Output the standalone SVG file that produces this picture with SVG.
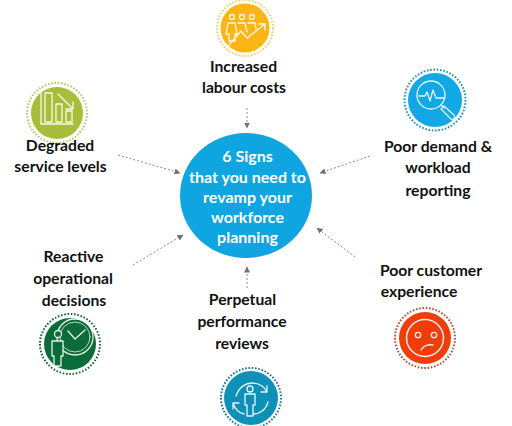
<svg xmlns="http://www.w3.org/2000/svg" width="512" height="426" viewBox="0 0 512 426">
<style>
.l{font-family:Lato,"Open Sans",sans-serif;font-weight:700;font-size:15.700px;fill:#111;text-anchor:middle}
.c{font-family:Lato,"Open Sans",sans-serif;font-weight:700;font-size:16px;fill:#fff;text-anchor:middle}
.a{stroke:#8a8a8a;stroke-width:1;stroke-dasharray:2 2;fill:none;marker-end:url(#ah)}
.r{fill:none;stroke-width:2;stroke-dasharray:1.6 1.7}
.i{fill:none;stroke:#fff;stroke-width:1.300;stroke-linecap:round;stroke-linejoin:round;opacity:.9}
</style>
<defs><marker id="ah" markerWidth="7" markerHeight="7" refX="5.500" refY="3" orient="auto" markerUnits="userSpaceOnUse"><path d="M0 0L6 3L0 6Z" fill="#707070"/></marker></defs>
<rect width="512" height="426" fill="#fff"/>
<g id="connectors">
<path class="a" d="M247 108V128"/>
<path class="a" d="M118 155L180 173"/>
<path class="a" d="M370 156L320 173"/>
<path class="a" d="M355 257L317 228"/>
<path class="a" d="M133 265L183 235"/>
<path class="a" d="M247 288V267"/>
</g>
<g id="center"><ellipse cx="246" cy="195.500" rx="66" ry="62.500" fill="#0ea5e0"/>
<text class="c" x="247.500" y="162">6 Signs</text><text class="c" x="247.500" y="183">that you need to</text><text class="c" x="247.500" y="203">revamp your</text><text class="c" x="247.500" y="223">workforce</text><text class="c" x="247.500" y="243">planning</text></g>
<g id="labour"><circle cx="245" cy="28" r="28" class="r" stroke="#f0cf68"/><circle cx="245" cy="28" r="24.500" fill="#fbb615"/>
<g class="i"><circle cx="232" cy="17" r="2.500"/><circle cx="242" cy="17" r="2.500"/><circle cx="252" cy="17" r="2.500"/><path d="M228 23h7l2 11h-2v7h-6v-7h-3zM238 23h7l2 9M248 23h7l1 6M229 45L241 31L247 38L265 24M259 24h6v6"/></g>
<text class="l" x="243.500" y="72">Increased</text><text class="l" x="244" y="93">labour costs</text></g>
<g id="service"><circle cx="57" cy="113" r="30" class="r" stroke="#b5c96a"/><circle cx="57" cy="113" r="26" fill="#a8bd3a"/>
<g class="i"><path d="M41 93V124H73M45 93h7v29h-7zM56 104h6v18h-6zM66 111h6v11h-6zM58 94L73 109M73 102v7h-7"/></g>
<text class="l" x="60" y="151">Degraded</text><text class="l" x="60.500" y="172">service levels</text></g>
<g id="reporting"><circle cx="435" cy="100" r="30.500" class="r" stroke="#1b8fc4"/><circle cx="435" cy="100" r="27" fill="#12a8e6"/>
<g class="i"><circle cx="431" cy="95" r="14"/><path d="M419 96h6l2-4 3 9 3-11 3 8h8M441 105l3 3M444 106l10 9c2 3-1 5-3 4l-10-10z"/></g>
<text class="l" x="438" y="152">Poor demand &amp;</text><text class="l" x="438" y="173">workload</text><text class="l" x="438" y="196">reporting</text></g>
<g id="experience"><circle cx="425" cy="338" r="30" class="r" stroke="#c0492b"/><circle cx="425" cy="338" r="26" fill="#ef3e0c"/>
<g class="i"><circle cx="425" cy="338" r="18.500" stroke-width="1.500"/><circle cx="418" cy="335" r="2.700"/><circle cx="434" cy="335" r="2.700"/><path d="M421 350c2-4 7-6 12-5"/></g>
<text class="l" x="431" y="276">Poor customer</text><text class="l" x="419" y="297">experience</text></g>
<g id="reviews"><circle cx="251" cy="398" r="30" class="r" stroke="#15769a"/><circle cx="251" cy="398" r="27" fill="#0f90b9"/>
<g class="i"><circle cx="250" cy="389" r="3"/><path d="M245 394h10v11h-2v11h-6v-11h-2zM236 396c3-9 10-13 16-13 7 0 12 3 15 9M267 386v6h-6M268 402c-2 8-9 12-14 12M233 403c2 6 6 10 11 11M233 409v-6h6"/></g>
<text class="l" x="242.500" y="305">Perpetual</text><text class="l" x="242" y="327">performance</text><text class="l" x="242" y="349">reviews</text></g>
<g id="decisions"><circle cx="70" cy="344" r="30" class="r" stroke="#14663f"/><circle cx="70" cy="344" r="26" fill="#0c6b3b"/>
<g class="i"><circle cx="75" cy="337" r="18"/><circle cx="75" cy="337" r="15" stroke-width=".8"/><path d="M68 331l7 8 10-9"/><circle cx="58" cy="334" r="3.500" fill="#0c6b3b"/><path d="M52 341h11v15h-2v10h-7v-10h-2z" fill="#0c6b3b"/></g>
<text class="l" x="73.500" y="262">Reactive</text><text class="l" x="73" y="284">operational</text><text class="l" x="74" y="306">decisions</text></g>
</svg>
